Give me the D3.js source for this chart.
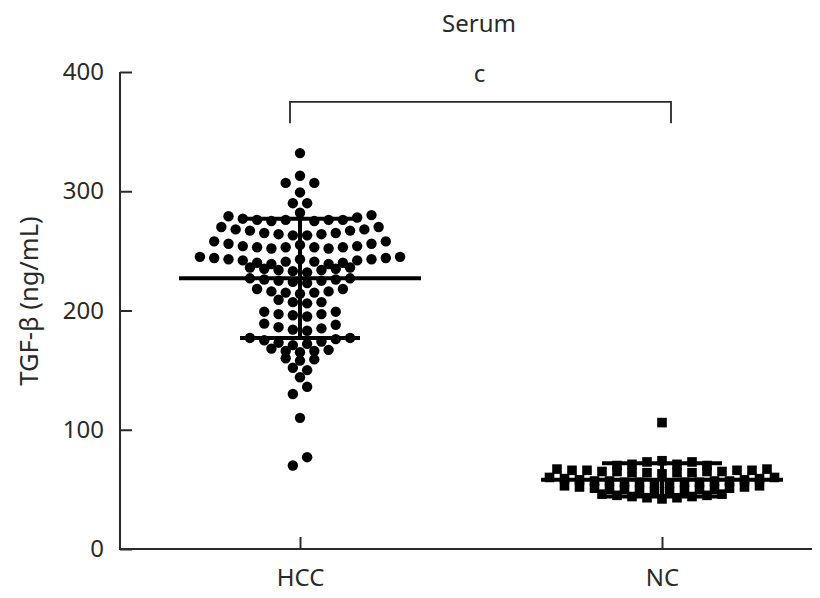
<!DOCTYPE html>
<html>
<head>
<meta charset="utf-8">
<script src="https://cdn.jsdelivr.net/npm/d3@7"></script>
<style>
  html, body { margin: 0; padding: 0; background: #fff; }
  svg { display: block; }
  text { font-family: "Noto Sans", "DejaVu Sans", sans-serif; fill: #2a2a2a; }
</style>
</head>
<body>
<script>
// ---------------- data ----------------
const categories = ["HCC", "NC"];
const yTicks = [0, 100, 200, 300, 400];
const chartTitle = "Serum";
const sigLabel = "c";
const yLabel = "TGF-β (ng/mL)";

// HCC individual values (row by row, left to right)
const hccValues = [
  332,
  307, 313, 307,
  299,
  290, 290,
  279, 277, 276, 275, 276, 282, 275, 276, 276, 278, 280,
  270, 268, 267, 265, 264, 263, 263, 264, 265, 267, 268, 270,
  258, 256, 254, 253, 252, 253, 255, 253, 252, 253, 254, 256, 258,
  245, 244, 243, 242, 240, 239, 241, 243, 241, 239, 240, 242, 243, 244, 245,
  236, 235, 234, 233, 232, 234, 235, 236,
  227, 226, 225, 224, 223, 225, 226, 227,
  218, 216, 215, 214, 215, 216, 218,
  209, 207, 206, 207,
  199, 197, 196, 195, 197, 199,
  189, 186, 184, 183, 185, 188,
  177, 175, 173, 171, 172, 174, 176, 177,
  168, 166, 165, 166, 167,
  160, 158, 159,
  152, 150,
  144,
  130, 136,
  110,
  70, 77
];

// NC individual values (row by row, left to right)
const ncValues = [
  106,
  70, 71, 73, 74, 71, 73, 70,
  67, 66, 66, 65, 65, 64, 64, 63, 64, 64, 65, 65, 66, 66, 67,
  60, 59, 58, 57, 57, 56, 56, 55, 55, 56, 56, 57, 57, 58, 59, 60,
  53, 52, 51, 50, 50, 49, 48, 48, 49, 50, 50, 51, 52, 53,
  46, 45, 44, 43, 42, 43, 44, 45, 46
];

const groupMean = [227, 58];
const groupSD = [50, 14];
const bracketLevel = 375;
const bracketDrop = 357;

// ---------------- layout ----------------
const W = 820, H = 598;
const svg = d3.select("body").append("svg").attr("width", W).attr("height", H);

const y = d3.scaleLinear().domain([0, 400]).range([549, 72]);
const x = d3.scalePoint().domain(categories).range([300, 662]);
const axisLeftX = 120, axisRightX = 812;
const ink = "#2a2a2a";

// bin values into rows (greedy from top), keep array order inside a row
function rowOffsets(values, binSize) {
  const idx = d3.range(values.length).sort((a, b) => values[b] - values[a]);
  const bin = new Array(values.length);
  let b = -1, top = Infinity;
  idx.forEach(i => {
    if (values[i] < top - binSize) { b++; top = values[i]; }
    bin[i] = b;
  });
  const groups = d3.group(d3.range(values.length), i => bin[i]);
  const off = new Array(values.length);
  groups.forEach(members => {
    const n = members.length;
    members.forEach((i, k) => { off[i] = k - (n - 1) / 2; });
  });
  return off;
}

// ---------------- axes ----------------
const yAxis = d3.axisLeft(y).tickValues(yTicks).tickSizeInner(-12).tickSizeOuter(0).tickPadding(16);
const gy = svg.append("g").attr("transform", `translate(${axisLeftX},0)`).call(yAxis);
gy.select(".domain").remove();
gy.selectAll(".tick line").attr("stroke", ink).attr("stroke-width", 2);
gy.selectAll(".tick text").attr("font-size", 24).attr("fill", ink)
  .attr("font-family", "Noto Sans, DejaVu Sans, sans-serif");

const xAxis = d3.axisBottom(x).tickSizeInner(-12).tickSizeOuter(0).tickPadding(20);
const gx = svg.append("g").attr("transform", `translate(0,${y(0)})`).call(xAxis);
gx.select(".domain").remove();
gx.selectAll(".tick line").attr("stroke", ink).attr("stroke-width", 2);
gx.selectAll(".tick text").attr("font-size", 24).attr("fill", ink)
  .attr("font-family", "Noto Sans, DejaVu Sans, sans-serif");

svg.append("line").attr("x1", axisLeftX).attr("x2", axisLeftX)
  .attr("y1", y(400)).attr("y2", y(0) + 1).attr("stroke", ink).attr("stroke-width", 2);
svg.append("line").attr("x1", axisLeftX - 1).attr("x2", axisRightX)
  .attr("y1", y(0)).attr("y2", y(0)).attr("stroke", ink).attr("stroke-width", 2);

// y label
svg.append("text")
  .attr("transform", `translate(38,301) rotate(-90)`)
  .attr("text-anchor", "middle").attr("font-size", 25.5).text(yLabel);

// title
svg.append("text").attr("x", (x("HCC") + x("NC")) / 2 - 2).attr("y", 32)
  .attr("text-anchor", "middle").attr("font-size", 24).text(chartTitle);

// significance bracket
const bx1 = x("HCC") - 10, bx2 = x("NC") + 9;
svg.append("path")
  .attr("d", `M${bx1},${y(bracketDrop)}V${y(bracketLevel)}H${bx2}V${y(bracketDrop)}`)
  .attr("fill", "none").attr("stroke", ink).attr("stroke-width", 1.8);
svg.append("text").attr("x", (bx1 + bx2) / 2 - 1).attr("y", 82)
  .attr("text-anchor", "middle").attr("font-size", 24).text(sigLabel);

// ---------------- points ----------------
const hccOff = rowOffsets(hccValues, 7);
svg.append("g").selectAll("circle").data(hccValues).join("circle")
  .attr("cx", (d, i) => x("HCC") + hccOff[i] * 14.3)
  .attr("cy", d => y(d))
  .attr("r", 5.2)
  .attr("fill", "#000");

const ncOff = rowOffsets(ncValues, 6);
const sq = 9.6;
svg.append("g").selectAll("rect").data(ncValues).join("rect")
  .attr("x", (d, i) => x("NC") + ncOff[i] * 15 - sq / 2)
  .attr("y", d => y(d) - sq / 2)
  .attr("width", sq).attr("height", sq)
  .attr("fill", "#000");

// ---------------- mean ± SD ----------------
categories.forEach((c, k) => {
  const cx = x(c), m = groupMean[k], s = groupSD[k];
  const g = svg.append("g").attr("stroke", "#000").attr("stroke-width", 4);
  g.append("line").attr("x1", cx - 121).attr("x2", cx + 121).attr("y1", y(m)).attr("y2", y(m));
  g.append("line").attr("x1", cx - 60).attr("x2", cx + 60).attr("y1", y(m + s)).attr("y2", y(m + s));
  g.append("line").attr("x1", cx - 60).attr("x2", cx + 60).attr("y1", y(m - s)).attr("y2", y(m - s));
  g.append("line").attr("x1", cx).attr("x2", cx).attr("y1", y(m + s)).attr("y2", y(m - s));
});
</script>
</body>
</html>
